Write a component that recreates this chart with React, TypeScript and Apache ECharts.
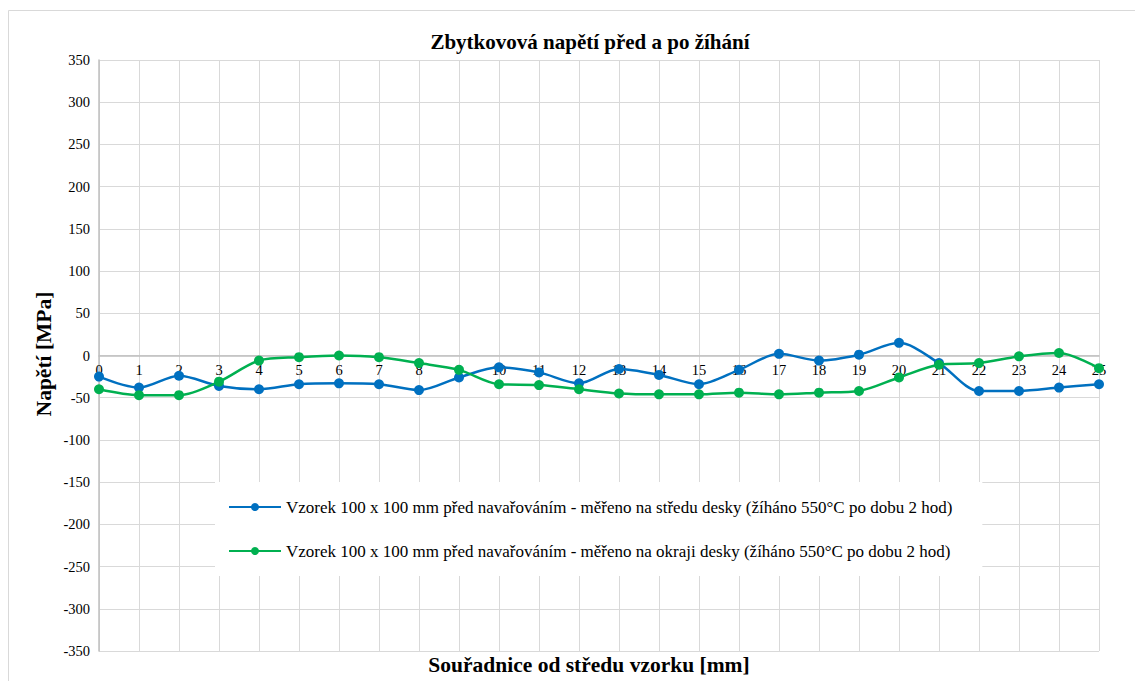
import React, { useEffect, useRef } from "react";
import * as echarts from "echarts";

const categories = ["0","1","2","3","4","5","6","7","8","9","10","11","12","13","14","15","16","17","18","19","20","21","22","23","24","25"];
const centerSeries = [-25, -38, -24, -36, -40, -34, -33, -34, -41, -26, -14, -20, -33, -16, -23, -34, -17, 2, -6, 1, 15, -9, -42, -42, -38, -34];
const edgeSeries = [-40, -47, -47, -31, -6, -2, 0, -2, -9, -17, -34, -35, -40, -45, -46, -46, -44, -46, -44, -42, -26, -11, -9, -1, 3, -15];
const centerName = "Vzorek 100 x 100 mm před navařováním - měřeno na středu desky (žíháno 550°C po dobu 2 hod)";
const edgeName = "Vzorek 100 x 100 mm před navařováním - měřeno na okraji desky (žíháno 550°C po dobu 2 hod)";
const titleText = "Zbytkovová napětí před a po žíhání";
const xAxisTitle = "Souřadnice od středu vzorku [mm]";
const yAxisTitle = "Napětí [MPa]";

const FONT = "Liberation Serif";

export default function App() {
  const ref = useRef<HTMLDivElement>(null);
  useEffect(() => {
    if (!ref.current) return;
    const chart = echarts.init(ref.current, undefined, { renderer: "svg" });
    const gridTop = 60;
    const gridBottom = 30;
    const plotH = 681 - gridTop - gridBottom;
    const zeroOffset = -(plotH * 350) / 700;
    chart.setOption({
      animation: false,
      backgroundColor: "#ffffff",
      textStyle: { fontFamily: FONT },
      title: {
        text: titleText,
        left: 585,
        textAlign: "center",
        top: 26,
        textStyle: { fontFamily: FONT, fontSize: 21, fontWeight: "bold", color: "#000" },
      },
      grid: { left: 99, right: 36, top: gridTop, bottom: gridBottom, containLabel: false },
      legend: {
        orient: "vertical",
        left: 215,
        top: 482,
        padding: [16, 30, 16, 13],
        backgroundColor: "#ffffff",
        itemWidth: 52,
        itemHeight: 10,
        itemGap: 26,
        textStyle: { fontFamily: FONT, fontSize: 17, color: "#000", lineHeight: 18 },
        data: [centerName, edgeName],
      },
      xAxis: {
        type: "category",
        data: categories,
        boundaryGap: false,
        position: "bottom",
        offset: zeroOffset,
        axisLine: { show: true, onZero: false, lineStyle: { color: "#bfbfbf", width: 1.5 } },
        axisTick: { show: false },
        axisLabel: { fontFamily: FONT, fontSize: 14.5, color: "#000", margin: 7 },
        splitLine: { show: true, lineStyle: { color: "#d9d9d9", width: 1 } },
      },
      yAxis: {
        type: "value",
        min: -350,
        max: 350,
        interval: 50,
        axisLine: { show: true, lineStyle: { color: "#bfbfbf", width: 1.5 } },
        axisTick: { show: false },
        axisLabel: { fontFamily: FONT, fontSize: 14.5, color: "#000", margin: 9 },
        splitLine: { show: true, lineStyle: { color: "#d9d9d9", width: 1 } },
      },
      graphic: [
        {
          type: "rect",
          shape: { x: 8.5, y: 10.5, width: 1140, height: 700 },
          style: { fill: "none", stroke: "#d9d9d9", lineWidth: 1 },
          silent: true,
          z: -1,
        },
        {
          type: "text",
          x: 589,
          y: 665,
          style: {
            text: xAxisTitle,
            fontFamily: FONT,
            fontSize: 21.5,
            fontWeight: "bold",
            fill: "#000",
            align: "center",
            verticalAlign: "middle",
          },
        },
        {
          type: "text",
          x: 44,
          y: 354,
          rotation: Math.PI / 2,
          style: {
            text: yAxisTitle,
            fontFamily: FONT,
            fontSize: 21.5,
            fontWeight: "bold",
            fill: "#000",
            align: "center",
            verticalAlign: "middle",
          },
        },
      ],
      series: [
        {
          name: centerName,
          type: "line",
          data: centerSeries,
          smooth: 0.3,
          symbol: "circle",
          symbolSize: 10,
          color: "#0070C0",
          lineStyle: { width: 2.5, color: "#0070C0" },
          itemStyle: { color: "#0070C0" },
        },
        {
          name: edgeName,
          type: "line",
          data: edgeSeries,
          smooth: 0.3,
          symbol: "circle",
          symbolSize: 10,
          color: "#00B050",
          lineStyle: { width: 2.5, color: "#00B050" },
          itemStyle: { color: "#00B050" },
        },
      ],
    });
    return () => chart.dispose();
  }, []);
  return (
    <div
      ref={ref}
      style={{ position: "fixed", left: 0, top: 0, width: 1135, height: 681 }}
    />
  );
}
